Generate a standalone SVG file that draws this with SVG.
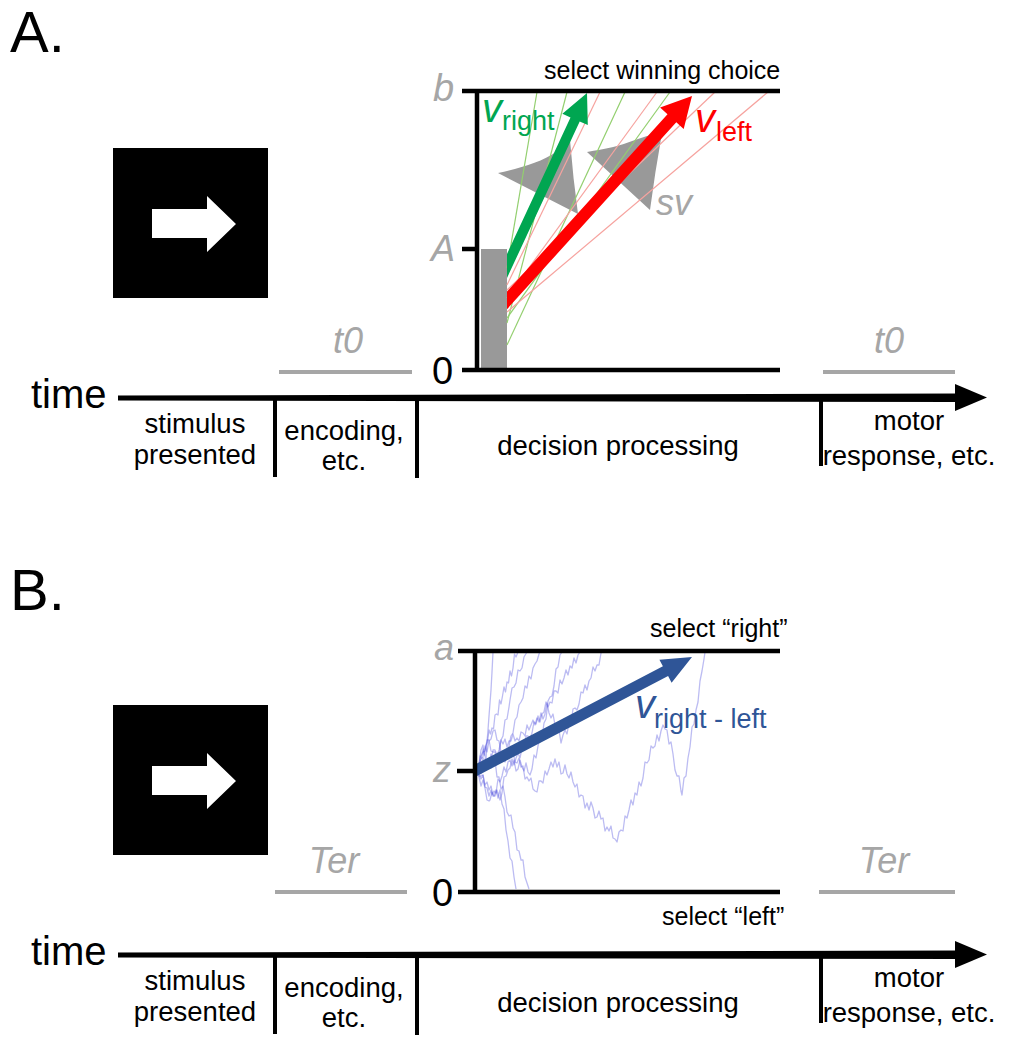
<svg xmlns="http://www.w3.org/2000/svg" width="1011" height="1050" viewBox="0 0 1011 1050">
<style>
text{font-family:'Liberation Sans',Arial,sans-serif;}
.lbl{font-size:27.5px;fill:#000;text-anchor:middle;}
.gr{fill:#a6a6a6;font-style:italic;}
.ax{stroke:#000;stroke-width:4.5;fill:none;}
.tick{stroke:#000;stroke-width:4;}
.gline{stroke:#a6a6a6;stroke-width:4;}
.thg{stroke:#93cf6f;stroke-width:1.2;}
.thr{stroke:#f6a39f;stroke-width:1.2;}
.walk{fill:none;stroke:#5050dc;stroke-opacity:0.38;stroke-width:1.3;stroke-linejoin:round;}
</style>
<rect width="1011" height="1050" fill="#fff"/>

<!-- Panel A -->
<g id="panel-a">
<text x="10" y="52" font-size="58">A.</text>
<g id="stimulus-a">
<rect x="113" y="148" width="155" height="150" fill="#000"/>
<polygon points="152,209 207,209 207,196 236,224 207,252 207,238 152,238" fill="#fff"/>
</g>
<g id="plot-a">
<rect x="481" y="249" width="26" height="119" fill="#999"/>
<path d="M498,173 C520,168 542,162 556,152 Q565,145 570,140 Q573,178 578,214 Z" fill="#999"/>
<path d="M587,152 C605,149 620,146 635,140 Q648,135 662,133 Q655,172 650,210 Z" fill="#999"/>
<g id="thin-lines">
<line class="thg" x1="507" y1="268" x2="537" y2="92"/>
<line class="thg" x1="507" y1="323" x2="567" y2="92"/>
<line class="thg" x1="507" y1="345" x2="625" y2="92"/>
<line class="thg" x1="507" y1="318" x2="670" y2="92"/>
<line class="thr" x1="507" y1="285" x2="600" y2="92"/>
<line class="thr" x1="507" y1="298" x2="657" y2="92"/>
<line class="thr" x1="507" y1="290" x2="715" y2="92"/>
<line class="thr" x1="507" y1="312" x2="768" y2="92"/>
</g>
<polygon points="507,254 570.5,117.5 562.4,113.7 587,93 587.8,125.1 579.7,121.5 507,278" fill="#00a651"/>
<polygon points="507,291.5 667.5,114.2 660.1,107.5 692,96 683.7,128.9 676.3,122.2 507,309.2" fill="#ff0000"/>
<path class="ax" d="M462,91 H780 M477,91 V370 M462,370 H780 M462,249 H477"/>
<text x="433" y="101" font-size="38" class="gr">b</text>
<text x="431" y="261" font-size="36" class="gr">A</text>
<text x="432" y="384" font-size="38">0</text>
<text x="544" y="79" font-size="25">select winning choice</text>
<text x="482" y="122" font-size="40" font-style="italic" fill="#00a651">v<tspan x="502" y="130" font-size="27" font-style="normal">right</tspan></text>
<text x="695" y="132" font-size="40" font-style="italic" fill="#ff0000">v<tspan x="716" y="141" font-size="27" font-style="normal">left</tspan></text>
<text x="656" y="215" font-size="36" class="gr">sv</text>
</g>
<g id="t0-a">
<line class="gline" x1="279" y1="372" x2="412" y2="372"/>
<text x="348" y="353" font-size="36" class="gr" text-anchor="middle">t0</text>
<line class="gline" x1="823" y1="372" x2="955" y2="372"/>
<text x="889" y="353" font-size="36" class="gr" text-anchor="middle">t0</text>
</g>
<g id="timeline-a">
<text x="31" y="408" font-size="40">time</text>
<polygon points="118,395.5 958,393.5 958,402 118,400.5" fill="#000"/>
<polygon points="955,384 987,397.5 955,411" fill="#000"/>
<line class="tick" x1="275" y1="398" x2="275" y2="477"/>
<line class="tick" x1="417" y1="398" x2="417" y2="478"/>
<line class="tick" x1="821" y1="398" x2="821" y2="466"/>
<text class="lbl" x="195" y="433">stimulus</text>
<text class="lbl" x="195" y="464">presented</text>
<text class="lbl" x="344" y="440">encoding,</text>
<text class="lbl" x="344" y="470">etc.</text>
<text class="lbl" x="618" y="455">decision processing</text>
<text class="lbl" x="909" y="430">motor</text>
<text class="lbl" x="909" y="465">response, etc.</text>
</g>
</g>

<!-- Panel B -->
<g id="panel-b">
<text x="10" y="610" font-size="58">B.</text>
<g id="stimulus-b">
<rect x="113" y="705" width="155" height="150" fill="#000"/>
<polygon points="152,766 207,766 207,753 236,781 207,809 207,795 152,795" fill="#fff"/>
</g>
<g id="plot-b">
<g id="walks">
<polyline class="walk" points="477,771 478.5,770 480,756 481.5,758 483,749 484.5,755 486,745 487.5,742 489,730 490.5,734 492,728 493.5,729 495,715 496.5,714 498,715 499.5,700 501,704 502.5,696 504,687 505.5,692 507,682 508.5,683 510,671 511.5,676 513,668 514.5,654 516,657 518,652"/>
<polyline class="walk" points="477,771 479,774 481,779 483,775 485,787 487,788 489,796 491,790 492,795 494,791 496,793 498,779 500,782 502,776 504,767 506,772 508,762 510,760 512,766 514,760 516,771 518,769 520,760 522,767 524,771 526,763 528,772 530,775 532,769 534,755 536,758 538,746 540,737 542,738 544,723 546,719 548,701 550,697 552,696 554,686 556,669 558,667 560,655 562,652"/>
<polyline class="walk" points="477,771 479,768 481,769 483,758 485,765 487,766 489,759 491,768 493,763 495,760 497,777 499,777 501,789 503,786 505,797 507,812 509,816 511,815 513,828 515,832 517,850 519,851 521,860 523,860 525,877 527,883 529,889"/>
<polyline class="walk" points="477,771 479,777 481,786 483,780 485,788 487,800 489,801 490,800 492,792 494,796 496,790 498,798 500,790 502,804 504,809 506,830 508,841 510,858 512,861 514,877 516,889"/>
<polyline class="walk" points="477,771 479,767 481,774 483,770 485,759 487,763 489,764 491,754 493,760 495,761 497,755 499,763 501,757 503,755 505,761 507,754 509,756 511,746 513,752 515,762 517,763 519,758 521,767 523,766 525,779 527,777 529,781 531,778 533,789 535,791 537,792 539,781 541,781 543,783 545,771 547,775 549,769 551,762 553,767 555,759 557,767 559,762 561,774 563,773 565,765 567,774 569,778 571,772 573,782 575,787 577,784 579,797 581,795 583,796 585,808 587,803 589,810 591,802 593,808 595,818 597,817 599,811 601,819 603,818 605,831 607,827 609,831 611,826 613,838 615,839 617,842 619,832 621,830 623,831 625,816 627,818 629,810 631,800 633,805 635,793 637,795 639,782 641,786 643,778 645,762 647,763 649,760 651,746 653,748 655,746 657,735 659,741 661,731 663,725 665,729 667,730 669,744 671,742 673,754 675,770 677,776 679,776 681,791 682,795 684,778 686,776 688,758 690,747 692,727 694,724 696,710 698,702 700,681 702,671 704,659 705,652"/>
<polyline class="walk" points="477,771 479,765 481,772 483,766 485,762 487,768 489,759 491,761 493,750 495,750 497,755 499,750 501,740 503,744 505,739 507,747 509,741 511,741 513,734 515,741 517,738 519,741 521,732 523,733 525,736 527,725 529,730 531,725 533,720 535,725 537,718 539,722 541,713 543,719 545,714 547,703 549,713 551,718 553,714 555,725 557,731 559,730 561,743 563,735 565,730 567,734 569,723 571,723 573,709 575,708 577,710 579,704 581,692 583,693 585,685 587,690 589,681 591,678 593,667 595,671 597,665 599,665 601,653 603,652"/>
<polyline class="walk" points="477,771 479,770 481,756 483,752 485,751 487,740 489,740 491,751 493,752 495,752 497,760 499,755 501,740 503,736 505,720 507,719 509,707 510,700 512,688 514,687 516,683 518,670 520,671 522,668 524,657 527,652"/>
<polyline class="walk" points="477,771 479,776 481,776 483,775 485,785 487,782 489,790 491,786 493,796 495,796 497,790 499,797 500,800 502,793 504,777 506,776 508,770 510,768 512,759 514,765 516,758 518,753 520,758 522,748 524,749 526,736 528,736 530,739 532,733 534,722 536,724 538,716 540,722 542,714 544,712 546,702 548,707 550,702 552,703 554,691 556,691 558,693 560,680 562,684 564,678 566,670 568,675 570,666 572,668 574,658 576,663 578,655 580,652"/>
<polyline class="walk" points="477,771 479,764 481,750 483,745 484,752 486,760 487,742 488,730 489,716 490,703 491,690 492,672 493,652"/>
<polyline class="walk" points="477,771 479,768 481,759 483,757 485,746 487,752 489,741 491,739 493,731 495,730 497,740 499,741 501,752 503,751 505,762 507,752 509,746 511,736 513,733 515,720 517,717 519,705 521,702 523,698 525,686 527,688 529,676 531,679 533,668 535,664 537,661 539,654 540,652"/>
</g>
<polygon points="475,764.5 662.9,666.3 659.4,659.7 692,657 671.6,682.7 668.1,676.1 475,777" fill="#2f5597"/>
<path class="ax" d="M458,651 H780 M475,651 V892 M458,892 H780 M457,771 H475"/>
<text x="434" y="660" font-size="36" class="gr">a</text>
<text x="433" y="782" font-size="36" class="gr">z</text>
<text x="432" y="906" font-size="38">0</text>
<text x="650" y="637" font-size="25">select “right”</text>
<text x="662" y="925" font-size="25">select “left”</text>
<text x="635" y="718" font-size="40" font-style="italic" fill="#2f5597">v<tspan x="654" y="728" font-size="27" font-style="normal">right - left</tspan></text>
</g>
<g id="ter-b">
<line class="gline" x1="275" y1="892" x2="407" y2="892"/>
<text x="334" y="873" font-size="36" class="gr" text-anchor="middle">Ter</text>
<line class="gline" x1="819" y1="892" x2="955" y2="892"/>
<text x="884" y="873" font-size="36" class="gr" text-anchor="middle">Ter</text>
</g>
<g id="timeline-b" transform="translate(0,557)">
<text x="31" y="408" font-size="40">time</text>
<polygon points="118,395.5 958,393.5 958,402 118,400.5" fill="#000"/>
<polygon points="955,384 987,397.5 955,411" fill="#000"/>
<line class="tick" x1="275" y1="398" x2="275" y2="477"/>
<line class="tick" x1="417" y1="398" x2="417" y2="478"/>
<line class="tick" x1="821" y1="398" x2="821" y2="466"/>
<text class="lbl" x="195" y="433">stimulus</text>
<text class="lbl" x="195" y="464">presented</text>
<text class="lbl" x="344" y="440">encoding,</text>
<text class="lbl" x="344" y="470">etc.</text>
<text class="lbl" x="618" y="455">decision processing</text>
<text class="lbl" x="909" y="430">motor</text>
<text class="lbl" x="909" y="465">response, etc.</text>
</g>
</g>
</svg>
